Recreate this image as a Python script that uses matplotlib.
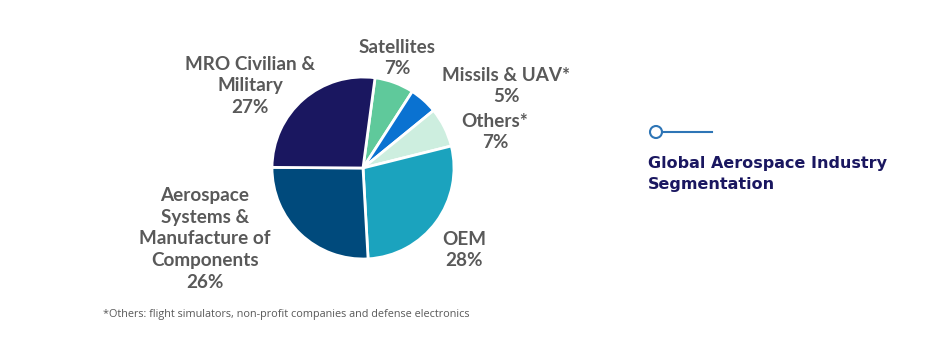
import matplotlib.pyplot as plt
from matplotlib.patches import Circle

segments = ["Satellites", "Missils & UAV*", "Others*", "OEM",
            "Aerospace\nSystems &\nManufacture of\nComponents", "MRO Civilian &\nMilitary"]
shares = [7, 5, 7, 28, 26, 27]
colors = ["#5FC99B", "#0A72D1", "#CDEEDF", "#1BA3BE", "#004A7C", "#1A1760"]

# label anchor points (pixels from top-left of the image)
label_pos = [(397, 58), (506, 86), (495, 132), (464, 250), (205, 239), (250, 86)]

W, H = 942, 360
fig = plt.figure(figsize=(W / 100, H / 100), dpi=100)
ax = fig.add_axes([0, 0, 1, 1])

ax.pie(shares, colors=colors, startangle=82.4, counterclock=False,
       center=(363, H - 168), radius=91, frame=True,
       wedgeprops=dict(edgecolor="white", linewidth=2))
ax.set_xlim(0, W)
ax.set_ylim(0, H)
ax.axis("off")

for name, val, (x, y) in zip(segments, shares, label_pos):
    ax.text(x, H - y, f"{name}\n{val}%", ha="center", va="center",
            fontsize=13.6, fontweight="bold", color="#595959",
            family="Lato", linespacing=1.33)

# legend-like marker on the right
ax.plot([662, 712], [H - 132, H - 132], color="#2E75B6", lw=1.5)
ax.add_patch(Circle((656, H - 132), 6, facecolor="white", edgecolor="#2E75B6", lw=1.5))
ax.text(648, H - 174, "Global Aerospace Industry\nSegmentation", ha="left", va="center",
        fontsize=11.5, fontweight="bold", color="#1A1760", family="DejaVu Sans",
        linespacing=1.55)

ax.text(103, H - 315, "*Others: flight simulators, non-profit companies and defense electronics",
        ha="left", va="center", fontsize=7.8, color="#595959", family="Open Sans")

fig.savefig("out.png", dpi=100)
